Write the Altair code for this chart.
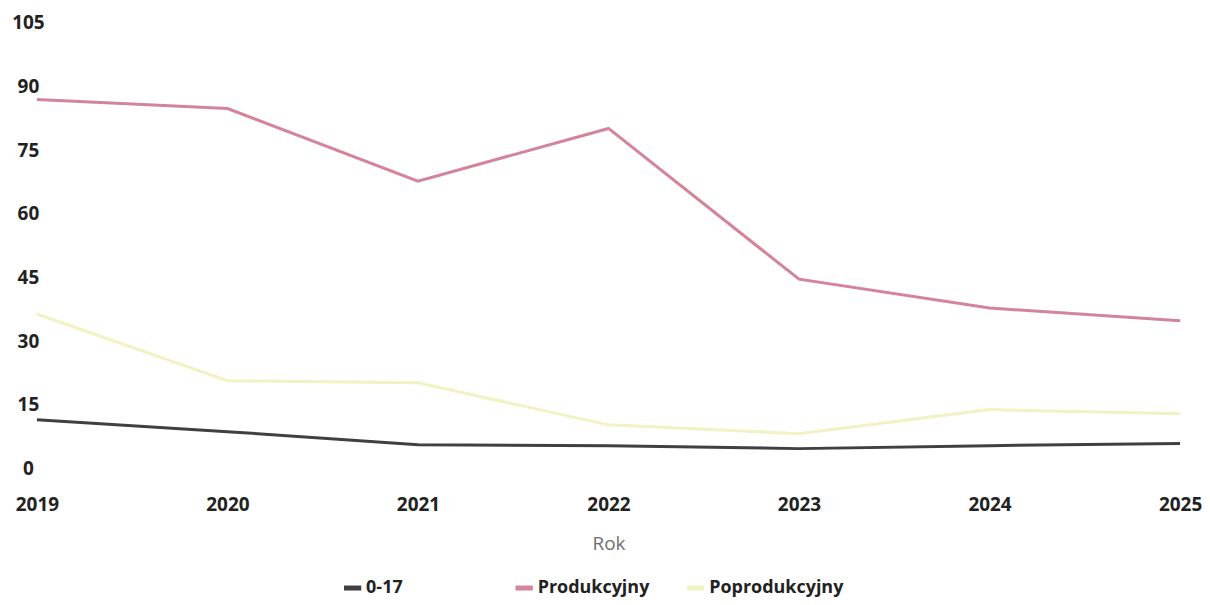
import altair as alt
import pandas as pd

years = [2019, 2020, 2021, 2022, 2023, 2024, 2025]
series_names = ["0-17", "Produkcyjny", "Poprodukcyjny"]
v_0_17 = [11.5, 8.7, 5.6, 5.4, 4.7, 5.4, 5.9]
v_prod = [86.9, 84.8, 67.7, 80.1, 44.6, 37.8, 34.8]
v_poprod = [36.4, 20.7, 20.2, 10.3, 8.2, 13.9, 12.9]
colors = ["#404040", "#d4849a", "#f2f2c4"]
y_ticks = [0, 15, 30, 45, 60, 75, 90, 105]

rows = []
for name, vals in zip(series_names, [v_0_17, v_prod, v_poprod]):
    for yr, v in zip(years, vals):
        rows.append({"Rok": yr, "Wartosc": v, "Grupa": name})
df = pd.DataFrame(rows)

FONT = "Open Sans"

chart = alt.Chart(df).mark_line(strokeWidth=3).encode(
    x=alt.X("Rok:Q",
            scale=alt.Scale(domain=[2019, 2025], nice=False, zero=False),
            axis=alt.Axis(values=years, format="d", title="Rok",
                          domain=False, ticks=False, grid=False,
                          labelFont=FONT, labelFontWeight="bold", labelFontSize=19,
                          labelColor="#222222", labelPadding=27, labelFlush=False,
                          titleFont=FONT, titleFontWeight="normal", titleFontSize=19,
                          titleColor="#707070", titlePadding=20)),
    y=alt.Y("Wartosc:Q",
            scale=alt.Scale(domain=[0, 105], nice=False),
            axis=alt.Axis(values=y_ticks, title=None, domain=False, ticks=False, grid=False,
                          labelFont=FONT, labelFontWeight="bold", labelFontSize=19,
                          labelColor="#222222", labelAlign="center", labelPadding=9)),
    color=alt.Color("Grupa:N",
                    scale=alt.Scale(domain=series_names, range=colors),
                    sort=series_names,
                    legend=alt.Legend(title=None, orient="none", direction="horizontal",
                                      legendX=305, legendY=555, gridAlign="all",
                                      symbolType="stroke", symbolStrokeWidth=5, symbolSize=300,
                                      labelFont=FONT, labelFontWeight="bold", labelFontSize=18,
                                      labelColor="#222222", columnPadding=4, labelOffset=2)),
    order=alt.Order("Rok:Q"),
).properties(
    width=1146, height=447,
    autosize=alt.AutoSizeParams(type="none"),
    padding={"left": 29, "top": 14, "right": 22, "bottom": 128},
).configure_view(stroke=None)

chart.save("out.html", embed_options={"renderer": "svg", "actions": False})
